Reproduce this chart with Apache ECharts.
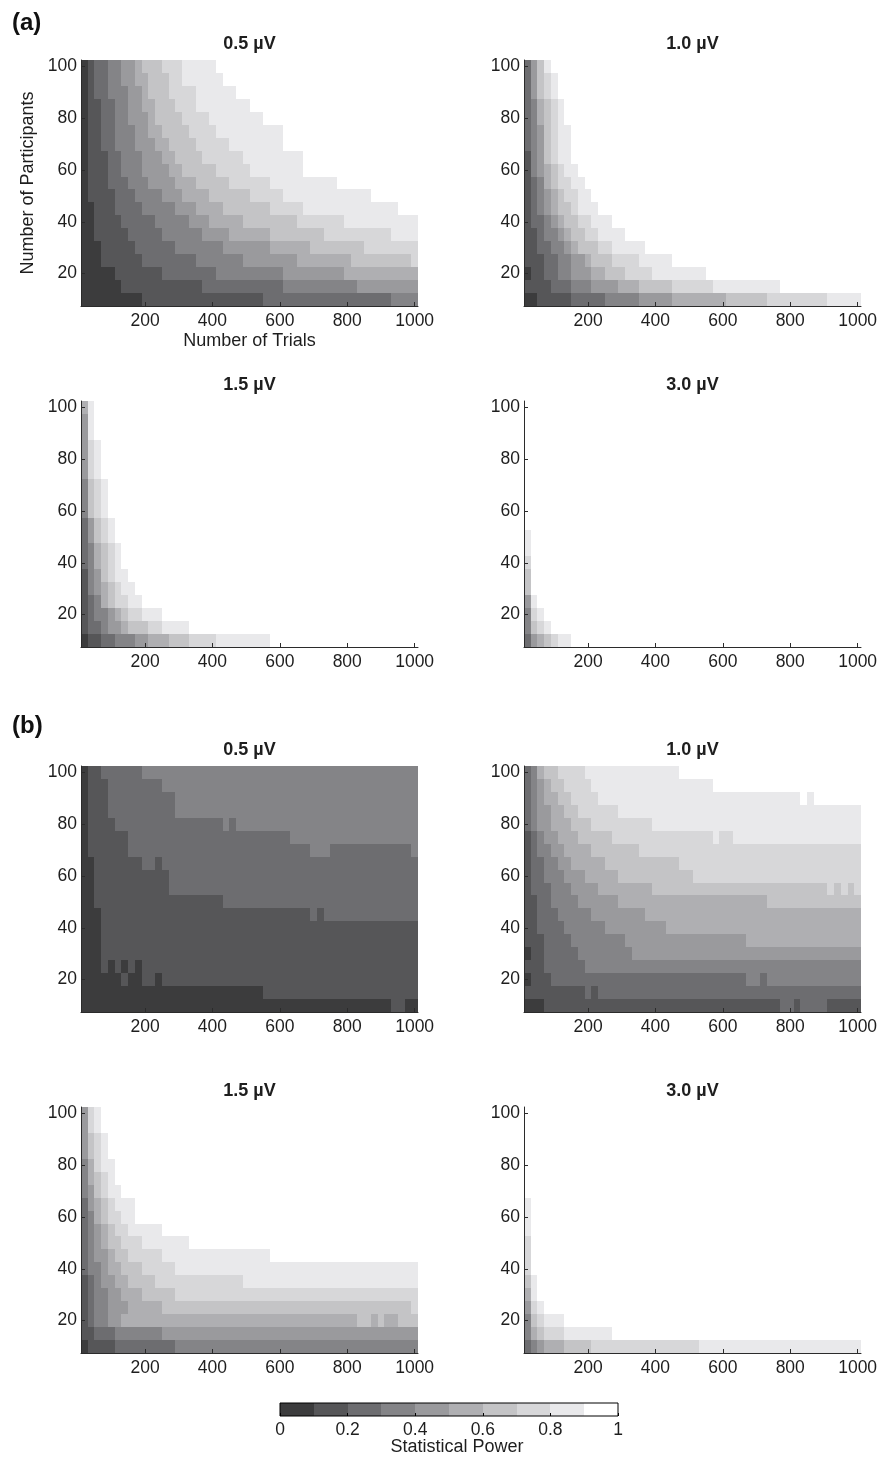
<!DOCTYPE html>
<html>
<head>
<meta charset="utf-8">
<title>Statistical power by trials and participants</title>
<script src="https://cdn.jsdelivr.net/npm/echarts@6/dist/echarts.min.js"></script>
<style>
  html, body { margin: 0; padding: 0; background: #ffffff; }
  #chart { width: 891px; height: 1462px; }
</style>
</head>
<body>
<div id="chart"></div>
<script>
// ---------------------------------------------------------------------------
// Simulation grid
// ---------------------------------------------------------------------------
const participants = [10, 15, 20, 25, 30, 35, 40, 45, 50, 55, 60, 65, 70, 75, 80, 85, 90, 95, 100];
const trials = [20, 40, 60, 80, 100, 120, 140, 160, 180, 200, 220, 240, 260, 280, 300, 320, 340, 360, 380, 400,
                420, 440, 460, 480, 500, 520, 540, 560, 580, 600, 620, 640, 660, 680, 700, 720, 740, 760, 780, 800,
                820, 840, 860, 880, 900, 920, 940, 960, 980, 1000];
const trialTicks = [200, 400, 600, 800, 1000];
const participantTicks = [20, 40, 60, 80, 100];

// Power is binned in steps of 0.1; one grey per bin
const powerEdges = [0, 0.1, 0.2, 0.3, 0.4, 0.5, 0.6, 0.7, 0.8, 0.9, 1];
const powerTicks = [0, 0.2, 0.4, 0.6, 0.8, 1];
const bandColors = ['#3c3c3d', '#565658', '#6d6d70', '#848487', '#9a9a9d',
                    '#afafb2', '#c4c4c6', '#d7d7d9', '#e9e9eb', '#ffffff'];

// ---------------------------------------------------------------------------
// For every participant count (rows, 10 -> 100) the number of trials at which
// power first reaches 0.1, 0.2, ... 0.9. Missing entries: never reached.
// Exceptions: [participants, fromTrial, toTrial, powerBin] for isolated cells.
// ---------------------------------------------------------------------------

// (a) 0.5 µV
const reachA05 = [
  [200, 560, 940],
  [140, 380, 620, 840],
  [120, 260, 420, 620, 800],
  [80, 200, 360, 500, 660, 820, 1000],
  [80, 180, 300, 440, 580, 700, 860],
  [60, 160, 260, 380, 460, 580, 740, 940],
  [60, 140, 240, 340, 400, 500, 660, 800],
  [60, 120, 200, 300, 360, 440, 580, 680, 960],
  [40, 120, 180, 260, 320, 400, 520, 620, 880],
  [40, 100, 160, 220, 300, 360, 460, 580, 780],
  [40, 100, 140, 200, 280, 320, 420, 520, 680],
  [40, 100, 140, 200, 260, 300, 380, 500, 680],
  [40, 80, 120, 180, 240, 280, 360, 460, 620],
  [40, 80, 120, 180, 220, 260, 340, 420, 620],
  [40, 80, 120, 160, 220, 240, 320, 400, 560],
  [40, 80, 120, 160, 200, 240, 300, 360, 520],
  [40, 60, 100, 160, 200, 220, 280, 360, 480],
  [40, 60, 100, 140, 180, 220, 280, 320, 440],
  [40, 60, 100, 140, 180, 200, 260, 320, 420]
];
const oddA05 = [];

// (a) 1.0 µV
const reachA10 = [
  [60, 160, 260, 360, 460, 620, 740, 920],
  [20, 100, 160, 220, 300, 360, 460, 580, 780],
  [40, 80, 120, 160, 220, 260, 320, 400, 560],
  [20, 80, 120, 160, 200, 220, 280, 360, 460],
  [20, 60, 100, 140, 160, 180, 240, 280, 380],
  [20, 60, 80, 120, 140, 160, 200, 240, 320],
  [20, 40, 80, 100, 120, 140, 180, 220, 280],
  [20, 40, 60, 80, 100, 120, 160, 180, 240],
  [20, 40, 60, 80, 100, 120, 140, 180, 220],
  [20, 40, 60, 80, 80, 100, 120, 160, 200],
  [20, 40, 40, 60, 80, 100, 120, 140, 180],
  [20, 40, 40, 60, 80, 80, 100, 120, 160],
  [20, 20, 40, 60, 80, 80, 100, 120, 160],
  [20, 20, 40, 60, 80, 80, 100, 120, 160],
  [20, 20, 40, 60, 60, 80, 100, 120, 140],
  [20, 20, 40, 60, 60, 80, 100, 120, 140],
  [20, 20, 40, 40, 60, 60, 80, 100, 120],
  [20, 20, 40, 40, 60, 60, 80, 100, 120],
  [20, 20, 40, 40, 60, 60, 80, 80, 100]
];
const oddA10 = [];

// (a) 1.5 µV
const reachA15 = [
  [40, 80, 120, 180, 220, 280, 340, 420, 580],
  [20, 40, 80, 100, 140, 160, 220, 260, 340],
  [20, 40, 60, 100, 120, 140, 160, 200, 260],
  [20, 40, 60, 80, 80, 100, 120, 160, 200],
  [20, 40, 40, 60, 80, 100, 120, 140, 180],
  [20, 40, 40, 60, 80, 80, 100, 120, 160],
  [20, 20, 40, 60, 60, 80, 100, 120, 140],
  [20, 20, 40, 60, 60, 80, 100, 120, 140],
  [20, 20, 40, 40, 60, 60, 80, 100, 120],
  [20, 20, 40, 40, 60, 60, 80, 100, 120],
  [20, 20, 20, 40, 40, 40, 60, 80, 100],
  [20, 20, 20, 40, 40, 40, 60, 80, 100],
  [20, 20, 20, 40, 40, 40, 60, 80, 100],
  [20, 20, 20, 20, 40, 40, 40, 60, 80],
  [20, 20, 20, 20, 40, 40, 40, 60, 80],
  [20, 20, 20, 20, 40, 40, 40, 60, 80],
  [20, 20, 20, 20, 40, 40, 40, 40, 60],
  [20, 20, 20, 20, 40, 40, 40, 40, 60],
  [20, 20, 20, 20, 20, 40, 40, 40, 60]
];
const oddA15 = [];

// (a) 3.0 µV
const reachA30 = [
  [20, 20, 40, 40, 60, 80, 100, 120, 160],
  [20, 20, 20, 40, 40, 40, 60, 80, 100],
  [20, 20, 20, 40, 40, 40, 40, 60, 80],
  [20, 20, 20, 20, 40, 40, 40, 40, 60],
  [20, 20, 20, 20, 20, 20, 40, 40, 40],
  [20, 20, 20, 20, 20, 20, 40, 40, 40],
  [20, 20, 20, 20, 20, 20, 20, 40, 40],
  [20, 20, 20, 20, 20, 20, 20, 20, 40],
  [20, 20, 20, 20, 20, 20, 20, 20, 40],
  [20, 20, 20, 20, 20, 20, 20, 20, 20],
  [20, 20, 20, 20, 20, 20, 20, 20, 20],
  [20, 20, 20, 20, 20, 20, 20, 20, 20],
  [20, 20, 20, 20, 20, 20, 20, 20, 20],
  [20, 20, 20, 20, 20, 20, 20, 20, 20],
  [20, 20, 20, 20, 20, 20, 20, 20, 20],
  [20, 20, 20, 20, 20, 20, 20, 20, 20],
  [20, 20, 20, 20, 20, 20, 20, 20, 20],
  [20, 20, 20, 20, 20, 20, 20, 20, 20],
  [20, 20, 20, 20, 20, 20, 20, 20, 20]
];
const oddA30 = [];

// (b) 0.5 µV
const reachB05 = [
  [],
  [560],
  [260],
  [80],
  [80],
  [80],
  [80],
  [80, 700],
  [60, 440],
  [60, 280],
  [60, 280],
  [60, 200],
  [40, 160, 700],
  [40, 160, 640],
  [40, 120, 440],
  [40, 100, 300],
  [40, 100, 300],
  [40, 100, 260],
  [40, 80, 200]
];
const oddB05 = [
  [10, 940, 960, 1],
  [20, 140, 140, 1], [20, 200, 220, 1],
  [25, 100, 100, 0], [25, 140, 140, 0], [25, 180, 180, 0],
  [45, 720, 720, 1],
  [65, 240, 240, 1],
  [70, 760, 980, 2],
  [80, 460, 460, 2]
];

// (b) 1.0 µV
const reachB10 = [
  [80],
  [20, 240],
  [40, 100, 680],
  [20, 80, 200],
  [40, 80, 180, 340],
  [20, 80, 160, 320, 680],
  [20, 60, 140, 260, 440],
  [20, 60, 120, 220, 380],
  [20, 60, 100, 180, 300, 740],
  [20, 40, 100, 160, 240, 400],
  [20, 40, 80, 140, 200, 300, 520],
  [20, 40, 80, 120, 160, 260, 480],
  [20, 40, 60, 100, 140, 220, 360],
  [20, 40, 60, 80, 120, 180, 280, 580],
  [20, 20, 40, 60, 100, 160, 220, 400],
  [20, 20, 40, 60, 100, 140, 180, 300],
  [20, 20, 40, 60, 80, 120, 160, 240, 840],
  [20, 20, 40, 60, 80, 100, 140, 220, 580],
  [20, 20, 40, 60, 60, 80, 120, 200, 480]
];
const oddB10 = [
  [10, 780, 800, 2], [10, 840, 900, 2],
  [15, 200, 200, 2],
  [20, 720, 720, 2],
  [55, 920, 920, 7], [55, 960, 960, 7], [55, 1000, 1000, 7],
  [75, 600, 620, 7],
  [90, 860, 860, 8]
];

// (b) 1.5 µV
const reachB15 = [
  [40, 120, 300],
  [20, 60, 120, 260],
  [20, 40, 60, 100, 140, 960],
  [20, 40, 60, 100, 160, 260],
  [20, 40, 60, 100, 140, 200, 300],
  [20, 40, 60, 80, 120, 160, 240, 500],
  [20, 20, 40, 80, 100, 140, 200, 300],
  [20, 20, 40, 60, 100, 120, 160, 260, 580],
  [20, 20, 40, 60, 80, 100, 140, 200, 340],
  [20, 20, 40, 60, 80, 100, 120, 160, 260],
  [20, 20, 40, 60, 60, 80, 100, 140, 180],
  [20, 20, 40, 40, 60, 80, 100, 120, 180],
  [20, 20, 20, 40, 60, 60, 80, 100, 140],
  [20, 20, 20, 40, 40, 60, 80, 100, 120],
  [20, 20, 20, 40, 40, 60, 60, 80, 120],
  [20, 20, 20, 20, 40, 40, 60, 80, 100],
  [20, 20, 20, 20, 40, 40, 60, 80, 100],
  [20, 20, 20, 20, 40, 40, 40, 60, 80],
  [20, 20, 20, 20, 40, 40, 40, 60, 80]
];
const oddB15 = [
  [20, 840, 860, 6], [20, 900, 900, 6],
  [25, 1000, 1000, 7]
];

// (b) 3.0 µV
const reachB30 = [
  [20, 20, 40, 60, 80, 140, 220, 540],
  [20, 20, 20, 40, 40, 60, 80, 140, 280],
  [20, 20, 20, 40, 40, 40, 60, 80, 140],
  [20, 20, 20, 20, 40, 40, 40, 60, 80],
  [20, 20, 20, 20, 20, 40, 40, 40, 60],
  [20, 20, 20, 20, 20, 20, 40, 40, 60],
  [20, 20, 20, 20, 20, 20, 20, 40, 40],
  [20, 20, 20, 20, 20, 20, 20, 40, 40],
  [20, 20, 20, 20, 20, 20, 20, 40, 40],
  [20, 20, 20, 20, 20, 20, 20, 20, 40],
  [20, 20, 20, 20, 20, 20, 20, 20, 40],
  [20, 20, 20, 20, 20, 20, 20, 20, 40],
  [20, 20, 20, 20, 20, 20, 20, 20, 20],
  [20, 20, 20, 20, 20, 20, 20, 20, 20],
  [20, 20, 20, 20, 20, 20, 20, 20, 20],
  [20, 20, 20, 20, 20, 20, 20, 20, 20],
  [20, 20, 20, 20, 20, 20, 20, 20, 20],
  [20, 20, 20, 20, 20, 20, 20, 20, 20],
  [20, 20, 20, 20, 20, 20, 20, 20, 20]
];
const oddB30 = [];

const panelTitles = ['0.5 µV', '1.0 µV', '1.5 µV', '3.0 µV', '0.5 µV', '1.0 µV', '1.5 µV', '3.0 µV'];
const panelReach = [reachA05, reachA10, reachA15, reachA30, reachB05, reachB10, reachB15, reachB30];
const panelOdd = [oddA05, oddA10, oddA15, oddA30, oddB05, oddB10, oddB15, oddB30];

// ---------------------------------------------------------------------------
// Layout (pixels)
// ---------------------------------------------------------------------------
const FONT = "'Liberation Sans', Arial, Helvetica, sans-serif";
const INK = '#1e1e1e';
const AXIS = '#2b2b2b';
const plotW = 337, plotH = 246;
const colLeft = [81, 524];
const rowTop = [60, 401, 766, 1107];

function powerBin(reach, t) {
  let b = 0;
  for (const v of reach) if (t >= v) b++;
  return b;
}

function buildCells(reach, odd) {
  const out = [];
  participants.forEach((n, i) => {
    trials.forEach(t => {
      let b = powerBin(reach[i] || [], t);
      for (const o of odd) {
        if (o[0] === n && t >= o[1] && t <= o[2]) b = o[3];
      }
      out.push([t, n, b]);
    });
  });
  return out;
}

// One rectangle per cell; edges snapped to whole pixels so neighbours meet without seams
function renderCell(params, api) {
  const t = api.value(0), n = api.value(1), b = api.value(2);
  const p0 = api.coord([t - 10, n + 2.5]);
  const p1 = api.coord([t + 10, n - 2.5]);
  const x0 = Math.round(p0[0]), y0 = Math.round(p0[1]);
  const x1 = Math.round(p1[0]), y1 = Math.round(p1[1]);
  return {
    type: 'rect',
    shape: { x: x0, y: y0, width: x1 - x0, height: y1 - y0 },
    style: { fill: bandColors[b] }
  };
}

const grids = [], xAxes = [], yAxes = [], series = [], graphics = [];
const plain = v => String(v);

panelTitles.forEach((title, i) => {
  const left = colLeft[i % 2];
  const top = rowTop[Math.floor(i / 2)];
  grids.push({ left: left, top: top, width: plotW, height: plotH, containLabel: false });

  const isFirst = i === 0;
  xAxes.push({
    gridIndex: i, type: 'value', min: 10, max: 1010, z: 10,
    axisLine: { show: true, onZero: false, lineStyle: { color: AXIS, width: 1 } },
    axisTick: { show: true, inside: true, length: 4, customValues: trialTicks, lineStyle: { color: AXIS } },
    axisLabel: { customValues: trialTicks, margin: 6, fontSize: 17.5, color: INK, fontFamily: FONT, formatter: plain },
    splitLine: { show: false },
    name: isFirst ? 'Number of Trials' : '',
    nameLocation: 'middle', nameGap: 26,
    nameTextStyle: { fontSize: 18, color: INK, fontFamily: FONT }
  });
  yAxes.push({
    gridIndex: i, type: 'value', min: 7.5, max: 102.5, z: 10,
    axisLine: { show: true, onZero: false, lineStyle: { color: AXIS, width: 1 } },
    axisTick: { show: true, inside: true, length: 4, customValues: participantTicks, lineStyle: { color: AXIS } },
    axisLabel: { customValues: participantTicks, margin: 4, fontSize: 17.5, color: INK, fontFamily: FONT, formatter: plain },
    splitLine: { show: false },
    name: isFirst ? 'Number of Participants' : '',
    nameLocation: 'middle', nameGap: 44,
    nameTextStyle: { fontSize: 18, color: INK, fontFamily: FONT }
  });
  series.push({
    type: 'custom', xAxisIndex: i, yAxisIndex: i,
    dimensions: ['trials', 'participants', 'power'],
    encode: { x: 0, y: 1 },
    renderItem: renderCell,
    data: buildCells(panelReach[i], panelOdd[i]),
    silent: true, animation: false
  });
  graphics.push({
    type: 'text', x: left + plotW / 2, y: top - 15.5, z: 20,
    style: { text: title, align: 'center', verticalAlign: 'middle', fill: INK,
             fontSize: 18, fontWeight: 'bold', fontFamily: FONT }
  });
});

// Colour bar
const cbIndex = panelTitles.length;
const cb = { left: 280, top: 1403, width: 338, height: 13 };
grids.push({ left: cb.left, top: cb.top, width: cb.width, height: cb.height });
xAxes.push({
  gridIndex: cbIndex, type: 'value', min: 0, max: 1, interval: 0.2, z: 10,
  axisLine: { show: false },
  axisTick: { show: true, inside: true, length: 3, lineStyle: { color: '#000' } },
  axisLabel: { margin: 5, fontSize: 17.5, color: INK, fontFamily: FONT,
               formatter: v => String(+v.toFixed(1)) },
  splitLine: { show: false }
});
yAxes.push({ gridIndex: cbIndex, type: 'value', min: 0, max: 1, show: false });
series.push({
  type: 'custom', xAxisIndex: cbIndex, yAxisIndex: cbIndex,
  renderItem: (params, api) => {
    const p0 = api.coord([api.value(0), 1]);
    const p1 = api.coord([api.value(1), 0]);
    const x0 = Math.round(p0[0]), x1 = Math.round(p1[0]);
    return { type: 'rect', shape: { x: x0, y: p0[1], width: x1 - x0, height: p1[1] - p0[1] },
             style: { fill: bandColors[api.value(2)] } };
  },
  data: bandColors.map((c, k) => [powerEdges[k], powerEdges[k + 1], k]),
  silent: true, animation: false
});
graphics.push({
  type: 'rect', z: 30, shape: { x: cb.left, y: cb.top, width: cb.width, height: cb.height },
  style: { fill: 'none', stroke: '#000', lineWidth: 1 }
});
graphics.push({
  type: 'text', x: 457, y: 1447, z: 20,
  style: { text: 'Statistical Power', align: 'center', verticalAlign: 'middle', fill: INK,
           fontSize: 18, fontFamily: FONT }
});

// Section letters
graphics.push({
  type: 'text', x: 12, y: 23, z: 20,
  style: { text: '(a)', align: 'left', verticalAlign: 'middle', fill: '#111', fontSize: 24, fontWeight: 'bold', fontFamily: FONT }
});
graphics.push({
  type: 'text', x: 12, y: 726, z: 20,
  style: { text: '(b)', align: 'left', verticalAlign: 'middle', fill: '#111', fontSize: 24, fontWeight: 'bold', fontFamily: FONT }
});

const chart = echarts.init(document.getElementById('chart'), null, { renderer: 'canvas' });
chart.setOption({
  backgroundColor: '#ffffff',
  animation: false,
  grid: grids,
  xAxis: xAxes,
  yAxis: yAxes,
  series: series,
  graphic: graphics
});
</script>
</body>
</html>
